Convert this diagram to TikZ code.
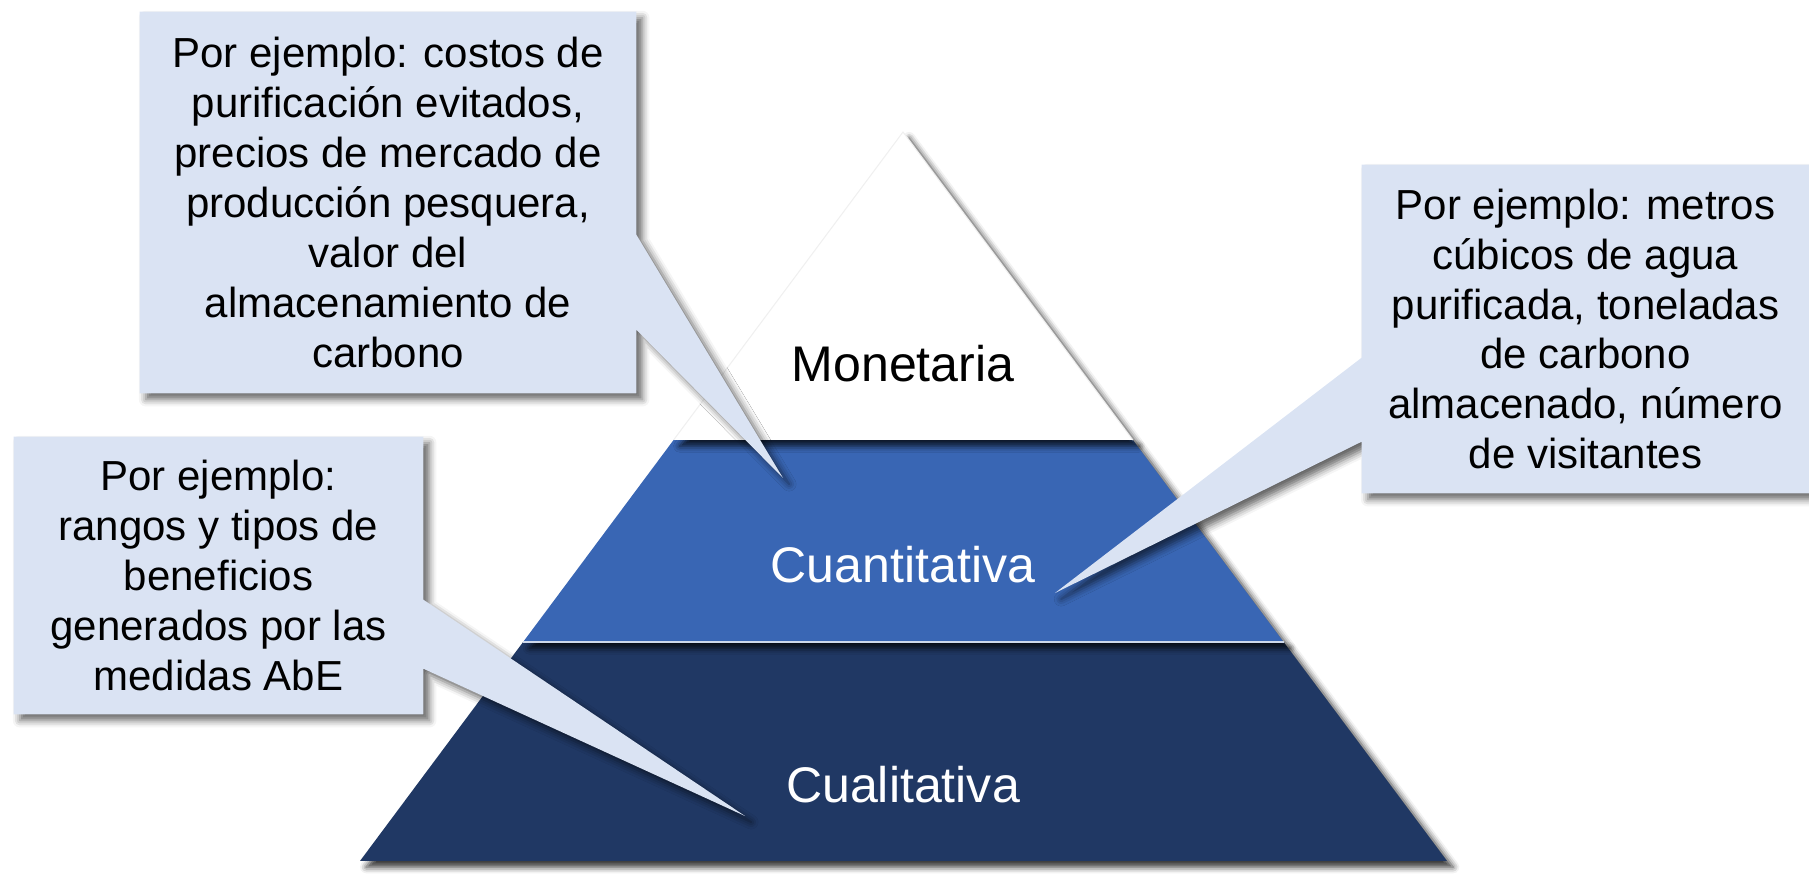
\documentclass[tikz,border=0pt]{standalone}
\usepackage{fontspec}
\setmainfont{Liberation Sans}
\usetikzlibrary{calc,shadows.blur}
\definecolor{calloutBlue}{HTML}{DAE3F3}
\definecolor{tierMid}{HTML}{3966B4}
\definecolor{tierLow}{HTML}{203864}
\begin{document}
\begin{tikzpicture}
[x=0.02cm,y=0.02cm,%
  shadowDecorate/.style={blur shadow={shadow xshift=3.5pt,shadow yshift=-3.5pt,shadow blur radius=4pt,shadow opacity=60}},%
  tierShadow/.style={blur shadow={shadow xshift=3.5pt,shadow yshift=-3.5pt,shadow blur radius=3.5pt,shadow opacity=80}},%
  calloutDecorate/.style={fill=calloutBlue,shadowDecorate},%
  boxShape/.style={inner sep=0pt},%
  boxText/.style={align=center,inner sep=0pt,font=\fontsize{23.9}{28.45}\selectfont},%
  tierText/.style={anchor=base,font=\fontsize{28.5}{34}\selectfont}]
\useasboundingbox (0,0) rectangle (1809,874);
%% pyramid corners
\coordinate (apex) at (903,742);
\coordinate (baseL) at (360,13);
\coordinate (baseR) at (1447,13);
\coordinate (midL) at ($(apex)!0.4225!(baseL)$);
\coordinate (midR) at ($(apex)!0.4225!(baseR)$);
\coordinate (lowL) at ($(apex)!0.6996!(baseL)$);
\coordinate (lowR) at ($(apex)!0.6996!(baseR)$);
%% pyramid tiers
\path[fill=tierLow,tierShadow] (lowL) -- (lowR) -- (baseR) -- (baseL) -- cycle;
\draw[white!80!gray,line width=0.6pt] (lowL) -- (lowR);
\path[fill=tierMid,tierShadow] (midL) -- (midR) -- (lowR) -- (lowL) -- cycle;
\draw[white!75!tierMid,line width=0.8pt] (lowL) -- (lowR);
\path[fill=white,tierShadow] (apex) -- (midR) -- (midL) -- cycle;
\draw[white!88!gray,line width=0.6pt] (midL) -- (apex) -- (midR);
\node (monetaria) at (903,492) [tierText] {Monetaria};
\node (cuantitativa) at (903,291) [tierText,text=white] {Cuantitativa};
\node (cualitativa) at (903,71) [tierText,text=white] {Cualitativa};
%% callout boxes and tips
\node (boxMon) at (388,671.5) [boxShape,minimum width=9.92cm,minimum height=7.62cm] {};
\node (boxCuan) at (1585.5,545) [boxShape,minimum width=8.94cm,minimum height=6.56cm] {};
\node (boxCual) at (218.5,298.5) [boxShape,minimum width=8.18cm,minimum height=5.54cm] {};
\coordinate (tipMon) at (783,396);
\coordinate (tipCuan) at (1055,281);
\coordinate (tipCual) at (745,58);
\path[calloutDecorate] (boxMon.north west) -- (boxMon.north east)
  -- ($(boxMon.north east)+(0,-223)$) -- (tipMon) -- ($(boxMon.north east)+(0,-318)$)
  -- (boxMon.south east) -- (boxMon.south west) -- cycle;
\path[calloutDecorate] (boxCuan.north west) -- (boxCuan.north east)
  -- (boxCuan.south east) -- (boxCuan.south west)
  -- ($(boxCuan.north west)+(0,-277)$) -- (tipCuan) -- ($(boxCuan.north west)+(0,-193)$) -- cycle;
\path[calloutDecorate] (boxCual.north west) -- (boxCual.north east)
  -- ($(boxCual.north east)+(0,-163)$) -- (tipCual) -- ($(boxCual.north east)+(0,-232)$)
  -- (boxCual.south east) -- (boxCual.south west) -- cycle;
%% callout texts
\node (txtMon) at (boxMon) [boxText]
  {Por ejemplo: costos de\\purificación evitados,\\precios de mercado de\\producción pesquera,\\valor del\\almacenamiento de\\carbono};
\node (txtCuan) at (boxCuan) [boxText]
  {Por ejemplo: metros\\cúbicos de agua\\purificada, toneladas\\de carbono\\almacenado, número\\de visitantes};
\node (txtCual) at (boxCual) [boxText]
  {Por ejemplo:\\rangos y tipos de\\beneficios\\generados por las\\medidas AbE};
\end{tikzpicture}
\end{document}
